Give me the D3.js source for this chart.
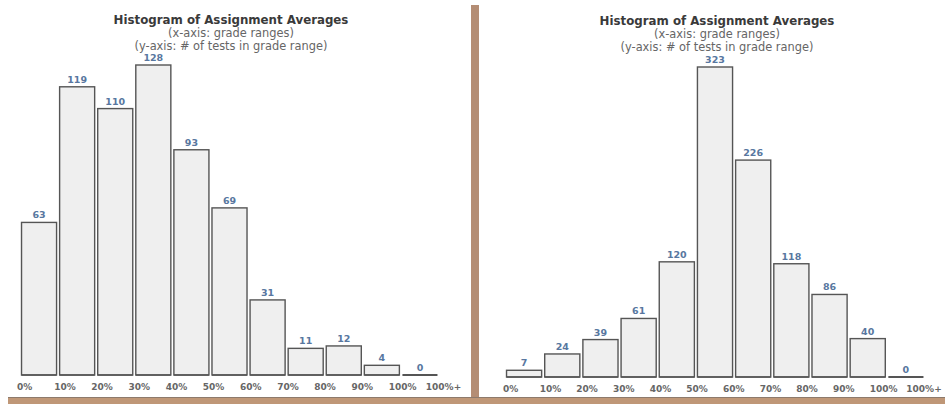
<!DOCTYPE html>
<html>
<head>
<meta charset="utf-8">
<script src="https://cdn.jsdelivr.net/npm/d3@7"></script>
<style>
  html, body { margin: 0; padding: 0; background: #ffffff; }
  svg { display: block; }
</style>
</head>
<body>
<svg id="chart" width="945" height="404"></svg>
<script>
// Grade-range bins (one bar per bin) and the boundary labels under them
const bins = ["0-10", "10-20", "20-30", "30-40", "40-50", "50-60", "60-70", "70-80", "80-90", "90-100", "100+"];
const tickLabels = ["0%", "10%", "20%", "30%", "40%", "50%", "60%", "70%", "80%", "90%", "100%", "100%+"];

// Number of tests falling in each grade range
const countsFirst = [63, 119, 110, 128, 93, 69, 31, 11, 12, 4, 0];
const countsSecond = [7, 24, 39, 61, 120, 323, 226, 118, 86, 40, 0];

const titleText = "Histogram of Assignment Averages";
const subtitleX = "(x-axis: grade ranges)";
const subtitleY = "(y-axis: # of tests in grade range)";

const svg = d3.select("#chart");
const FONT = "'DejaVu Sans', Verdana, sans-serif";

function drawHistogram(counts, opt) {
  const g = svg.append("g");

  const x = d3.scaleBand().domain(bins).range([opt.x0, opt.x1])
    .paddingInner(0.08).paddingOuter(0.04);
  const y = d3.scaleLinear().domain([0, d3.max(counts)]).range([opt.base, opt.top]);
  const xt = d3.scaleBand().domain(tickLabels).range([opt.t0, opt.t1]).padding(0);

  const data = bins.map((b, i) => ({ bin: b, n: counts[i] }));

  g.selectAll("rect.bar").data(data).join("rect")
    .attr("class", "bar")
    .attr("x", d => x(d.bin))
    .attr("y", d => y(d.n))
    .attr("width", x.bandwidth())
    .attr("height", d => Math.max(0, y(0) - y(d.n)))
    .attr("fill", "#efefef")
    .attr("stroke", "#555555")
    .attr("stroke-width", 1.4);

  // bottom edge of every bar, so an empty bin still shows as a flat bar
  g.selectAll("line.floor").data(data).join("line")
    .attr("class", "floor")
    .attr("x1", d => x(d.bin))
    .attr("x2", d => x(d.bin) + x.bandwidth())
    .attr("y1", y(0))
    .attr("y2", y(0))
    .attr("stroke", "#555555")
    .attr("stroke-width", d => d.n === 0 ? 2 : 1.4);

  g.selectAll("text.val").data(data).join("text")
    .attr("class", "val")
    .attr("x", d => x(d.bin) + x.bandwidth() / 2)
    .attr("y", d => y(d.n) - 4)
    .attr("text-anchor", "middle")
    .attr("font-family", FONT)
    .attr("font-size", 9.5)
    .attr("font-weight", "bold")
    .attr("fill", "#5877a0")
    .text(d => d.n);

  g.selectAll("text.tick").data(tickLabels).join("text")
    .attr("class", "tick")
    .attr("x", d => xt(d))
    .attr("y", opt.tickY)
    .attr("text-anchor", "start")
    .attr("font-family", FONT)
    .attr("font-size", 9)
    .attr("font-weight", "bold")
    .attr("fill", "#666666")
    .text(d => d);

  const cx = opt.titleX;
  g.append("text").attr("x", cx).attr("y", opt.titleY)
    .attr("text-anchor", "middle").attr("font-family", FONT)
    .attr("font-size", 11.8).attr("font-weight", "bold").attr("fill", "#3a3a3a")
    .text(titleText);
  g.append("text").attr("x", cx).attr("y", opt.titleY + 13)
    .attr("text-anchor", "middle").attr("font-family", FONT)
    .attr("font-size", 11.4).attr("fill", "#666666")
    .text(subtitleX);
  g.append("text").attr("x", cx).attr("y", opt.titleY + 26)
    .attr("text-anchor", "middle").attr("font-family", FONT)
    .attr("font-size", 11.4).attr("fill", "#666666")
    .text(subtitleY);
}

drawHistogram(countsFirst, {
  x0: 20, x1: 439, base: 375, top: 65,
  t0: 17, t1: 463, tickY: 390,
  titleX: 231, titleY: 24
});

drawHistogram(countsSecond, {
  x0: 505, x1: 925, base: 377, top: 67,
  t0: 503, t1: 943, tickY: 392,
  titleX: 717, titleY: 25
});

// Frame: brown divider between the two panels and strip along the bottom
svg.append("rect").attr("x", 471).attr("y", 5).attr("width", 8).attr("height", 399)
  .attr("fill", "#b48d74");
svg.append("rect").attr("x", 8).attr("y", 398).attr("width", 937).attr("height", 6)
  .attr("fill", "#bf9777");
svg.append("line").attr("x1", 8).attr("x2", 945).attr("y1", 397.5).attr("y2", 397.5)
  .attr("stroke", "#8d7a6c").attr("stroke-width", 1);
</script>
</body>
</html>
